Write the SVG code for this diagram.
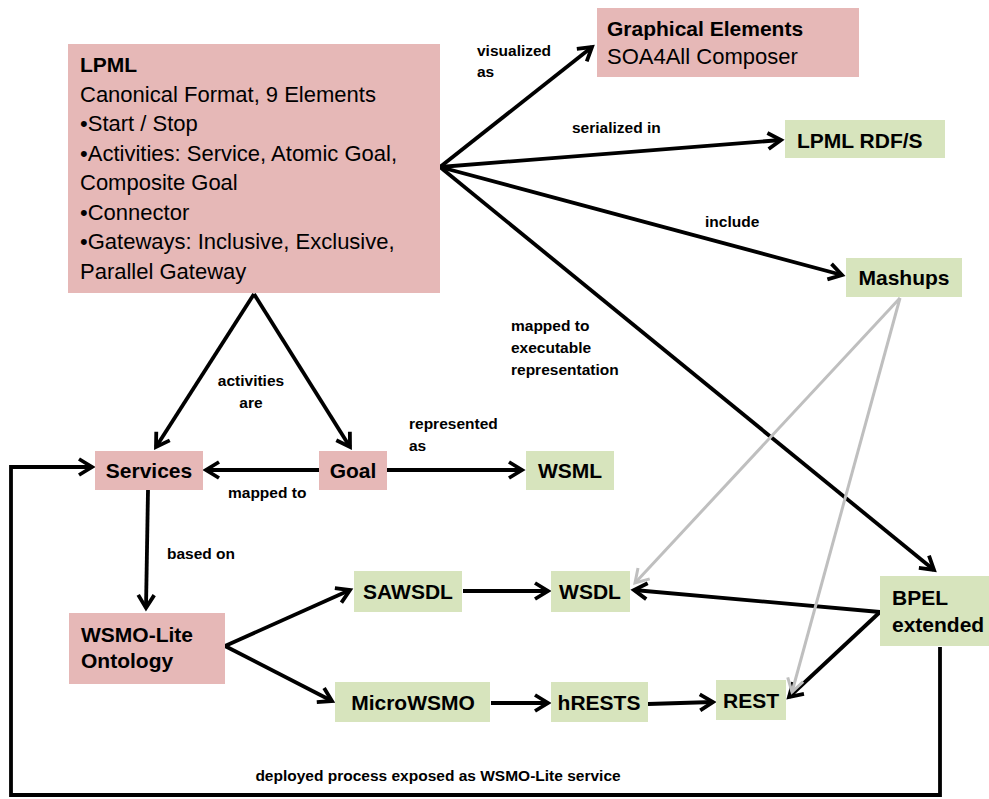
<svg xmlns="http://www.w3.org/2000/svg" width="989" height="799" viewBox="0 0 989 799">
  <style>
    .pink { fill: #e6b8b7; }
    .green { fill: #d7e4bd; }
    text { font-family: "Liberation Sans", Arial, sans-serif; fill: #000; }
    .title { font-size: 21px; font-weight: bold; }
    .body { font-size: 22px; }
    .lbl { font-size: 15.5px; font-weight: bold; }
    .mid { text-anchor: middle; }
    .edge { fill: none; stroke: #000; stroke-width: 3.8; marker-end: url(#arr); }
    .soft { fill: none; stroke: #bfbfbf; stroke-width: 3; marker-end: url(#arrGray); }
  </style>
  <defs>
    <marker id="arr" viewBox="0 0 20 20" refX="16" refY="10" markerWidth="20" markerHeight="20" markerUnits="userSpaceOnUse" orient="auto">
      <path d="M3,2 L16,10 L3,18" fill="none" stroke="#000" stroke-width="3.8"/>
    </marker>
    <marker id="arrGray" viewBox="0 0 20 20" refX="16" refY="10" markerWidth="20" markerHeight="20" markerUnits="userSpaceOnUse" orient="auto">
      <path d="M3,2 L16,10 L3,18" fill="none" stroke="#bfbfbf" stroke-width="3"/>
    </marker>
  </defs>

  <rect width="989" height="799" fill="#fff"/>

  <!-- connectors -->
  <g id="connectors">
    <path class="edge" d="M440,167 L592,47"/>
    <path class="edge" d="M440,167 L781,140"/>
    <path class="edge" d="M440,167 L842,275"/>
    <path class="edge" d="M440,167 L934,570"/>
    <path class="edge" d="M254,294 L156,447"/>
    <path class="edge" d="M254,294 L350,447"/>
    <path class="edge" d="M319,470 L206,470"/>
    <path class="edge" d="M387,470 L522,470"/>
    <path class="edge" d="M148,490 L146,608"/>
    <path class="edge" d="M225,646 L350,590"/>
    <path class="edge" d="M225,646 L332,701"/>
    <path class="edge" d="M463,591 L548,591"/>
    <path class="edge" d="M491,703 L548,703"/>
    <path class="edge" d="M648,704 L713,702"/>
    <path class="edge" d="M880,612 L634,590"/>
    <path class="edge" d="M880,612 L789,697"/>
    <path class="soft" d="M900,298 L635,583"/>
    <path class="soft" d="M900,298 L792,692"/>
    <path class="edge" stroke-width="3" d="M940,647 L940,795 L11,795 L11,467 L92,467"/>

    <text class="lbl" x="477" y="56">visualized</text>
    <text class="lbl" x="477" y="77">as</text>
    <text class="lbl" x="572" y="133">serialized in</text>
    <text class="lbl" x="705" y="227">include</text>
    <text class="lbl" x="511" y="331">mapped to</text>
    <text class="lbl" x="511" y="353">executable</text>
    <text class="lbl" x="511" y="375">representation</text>
    <text class="lbl mid" x="251" y="386">activities</text>
    <text class="lbl mid" x="251" y="408">are</text>
    <text class="lbl" x="409" y="429">represented</text>
    <text class="lbl" x="409" y="451">as</text>
    <text class="lbl" x="228" y="498">mapped to</text>
    <text class="lbl" x="167" y="559">based on</text>
    <text class="lbl mid" x="438" y="781">deployed process exposed as WSMO-Lite service</text>
  </g>

  <!-- nodes -->
  <g id="lpml">
    <rect class="pink" x="68" y="44" width="372" height="249"/>
    <text class="title" x="80" y="72">LPML</text>
    <text class="body" x="80" y="101.5">Canonical Format, 9 Elements</text>
    <text class="body" x="80" y="131">•Start / Stop</text>
    <text class="body" x="80" y="160.5">•Activities: Service, Atomic Goal,</text>
    <text class="body" x="80" y="190">Composite Goal</text>
    <text class="body" x="80" y="219.5">•Connector</text>
    <text class="body" x="80" y="249">•Gateways: Inclusive, Exclusive,</text>
    <text class="body" x="80" y="278.5">Parallel Gateway</text>
  </g>

  <g id="graphical-elements">
    <rect class="pink" x="597" y="8" width="262" height="69"/>
    <text class="title" x="607" y="36">Graphical Elements</text>
    <text class="body" x="607" y="64">SOA4All Composer</text>
  </g>

  <g id="lpml-rdfs">
    <rect class="green" x="785" y="120" width="160" height="38"/>
    <text class="title" x="797" y="148">LPML RDF/S</text>
  </g>

  <g id="mashups">
    <rect class="green" x="846" y="258" width="116" height="39"/>
    <text class="title mid" x="904" y="285">Mashups</text>
  </g>

  <g id="services">
    <rect class="pink" x="95" y="451" width="108" height="39"/>
    <text class="title mid" x="149" y="478">Services</text>
  </g>

  <g id="goal">
    <rect class="pink" x="319" y="451" width="68" height="39"/>
    <text class="title mid" x="353" y="478">Goal</text>
  </g>

  <g id="wsml">
    <rect class="green" x="526" y="451" width="88" height="39"/>
    <text class="title mid" x="570" y="478">WSML</text>
  </g>

  <g id="wsmo-lite">
    <rect class="pink" x="69" y="613" width="156" height="71"/>
    <text class="title" x="81" y="642">WSMO-Lite</text>
    <text class="title" x="81" y="668">Ontology</text>
  </g>

  <g id="sawsdl">
    <rect class="green" x="354" y="571" width="108" height="41"/>
    <text class="title mid" x="408" y="599">SAWSDL</text>
  </g>

  <g id="wsdl">
    <rect class="green" x="551" y="571" width="79" height="41"/>
    <text class="title mid" x="590" y="599">WSDL</text>
  </g>

  <g id="microwsmo">
    <rect class="green" x="335" y="682" width="155" height="40"/>
    <text class="title mid" x="413" y="710">MicroWSMO</text>
  </g>

  <g id="hrests">
    <rect class="green" x="551" y="682" width="97" height="40"/>
    <text class="title mid" x="599" y="710">hRESTS</text>
  </g>

  <g id="rest">
    <rect class="green" x="716" y="680" width="70" height="40"/>
    <text class="title mid" x="751" y="708">REST</text>
  </g>

  <g id="bpel">
    <rect class="green" x="880" y="576" width="109" height="70"/>
    <text class="title" x="892" y="605">BPEL</text>
    <text class="title" x="892" y="632">extended</text>
  </g>
</svg>
